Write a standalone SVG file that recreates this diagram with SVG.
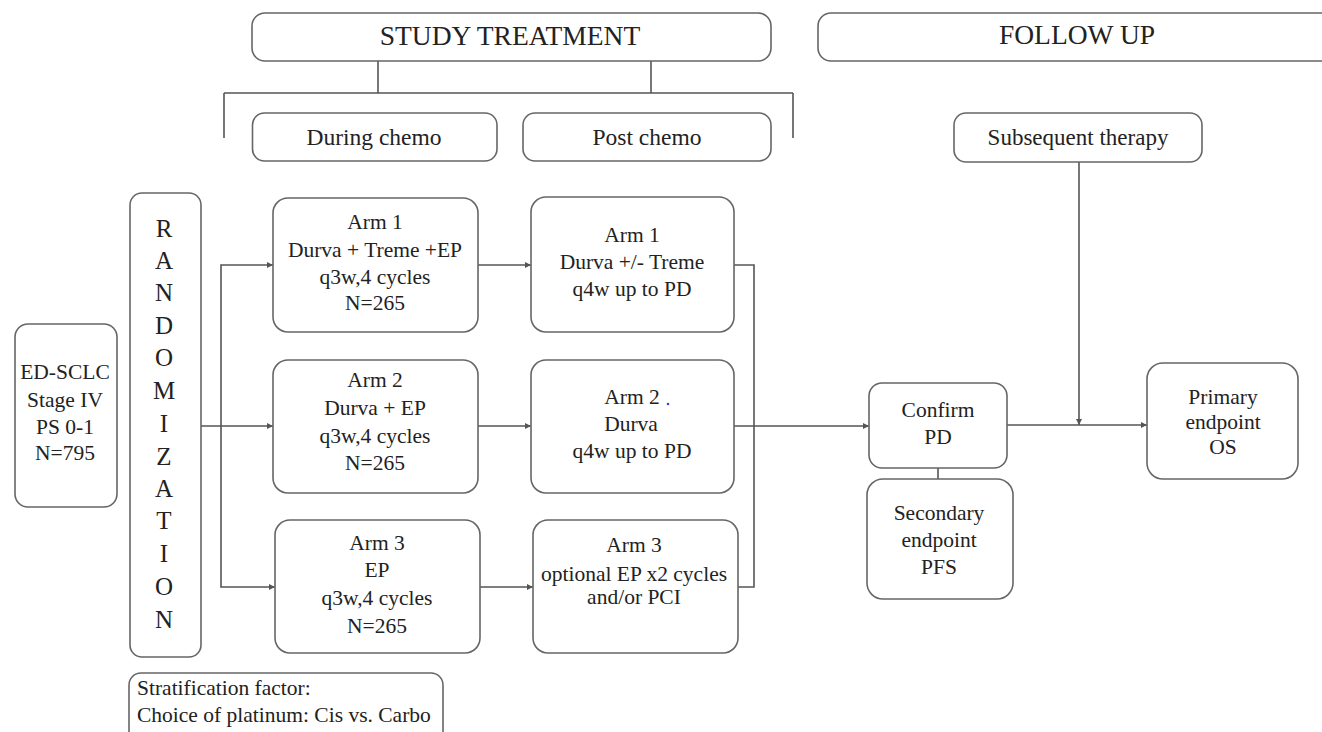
<svg xmlns="http://www.w3.org/2000/svg" width="1322" height="732" viewBox="0 0 1322 732" font-family="'Liberation Serif', 'DejaVu Serif', serif">
<defs>
<marker id="arr" viewBox="0 0 10 10" refX="10" refY="5" markerWidth="7" markerHeight="6" markerUnits="userSpaceOnUse" orient="auto">
<path d="M0,0 L10,5 L0,10 z" fill="#555"/>
</marker>
<style>
.box{fill:#fff;stroke:#666;stroke-width:1.6}
text{font-family:'Liberation Serif','DejaVu Serif',serif}
.t{fill:#222;text-anchor:middle;font-size:21.5px}
.h{font-size:27.5px}
.m{font-size:23.5px}
.s{font-size:23px}
.r{font-size:25px}
.l{text-anchor:start}
.c{fill:none;stroke:#555;stroke-width:1.6}
</style>
</defs>
<rect width="1322" height="732" fill="#fff"/>

<g id="connectors">
<path class="c" d="M378,61 V93 M651,61 V93 M224,93 H793 M224,93 V138 M793,93 V138"/>
<path class="c" d="M201,426 H273" marker-end="url(#arr)"/>
<path class="c" d="M221,426 V265 H273" marker-end="url(#arr)"/>
<path class="c" d="M221,426 V587 H275" marker-end="url(#arr)"/>
<path class="c" d="M478,265 H531" marker-end="url(#arr)"/>
<path class="c" d="M478,426 H531" marker-end="url(#arr)"/>
<path class="c" d="M480,587 H533" marker-end="url(#arr)"/>
<path class="c" d="M734,265 H754 V587 H738"/>
<path class="c" d="M734,426 H869" marker-end="url(#arr)"/>
<path class="c" d="M938,468 V479"/>
<path class="c" d="M1007,425 H1147" marker-end="url(#arr)"/>
<path class="c" d="M1079,162 V425" marker-end="url(#arr)"/>
</g>

<g id="study-treatment">
<rect class="box" x="252" y="13" width="519" height="48" rx="13"/>
<text class="t h" x="510" y="45">STUDY TREATMENT</text>
</g>
<g id="follow-up">
<rect class="box" x="818" y="13" width="520" height="48" rx="13"/>
<text class="t h" x="1077" y="44">FOLLOW UP</text>
</g>
<g id="during-chemo">
<rect class="box" x="252.5" y="113" width="244.5" height="48" rx="12"/>
<text class="t m" x="374" y="145">During chemo</text>
</g>
<g id="post-chemo">
<rect class="box" x="523" y="113" width="248" height="48" rx="12"/>
<text class="t m" x="647" y="145">Post chemo</text>
</g>
<g id="subsequent-therapy">
<rect class="box" x="954" y="113" width="248" height="49" rx="12"/>
<text class="t s" x="1078" y="145">Subsequent therapy</text>
</g>

<g id="ed-sclc">
<rect class="box" x="15" y="324" width="102" height="183" rx="13"/>
<text class="t" x="65" y="379">ED-SCLC</text>
<text class="t" x="65" y="407">Stage IV</text>
<text class="t" x="65" y="434">PS 0-1</text>
<text class="t" x="65" y="460">N=795</text>
</g>

<g id="randomization">
<rect class="box" x="130" y="193" width="71" height="464" rx="12"/>
<text class="t r" x="164" y="237">R</text>
<text class="t r" x="164" y="269">A</text>
<text class="t r" x="164" y="301">N</text>
<text class="t r" x="164" y="334">D</text>
<text class="t r" x="164" y="366">O</text>
<text class="t r" x="164" y="399">M</text>
<text class="t r" x="164" y="432">I</text>
<text class="t r" x="164" y="465">Z</text>
<text class="t r" x="164" y="497">A</text>
<text class="t r" x="164" y="529">T</text>
<text class="t r" x="164" y="562">I</text>
<text class="t r" x="164" y="595">O</text>
<text class="t r" x="164" y="628">N</text>
</g>

<g id="arm1-during">
<rect class="box" x="273" y="198" width="205" height="134" rx="15"/>
<text class="t" x="375" y="229">Arm 1</text>
<text class="t" x="375" y="257">Durva + Treme +EP</text>
<text class="t" x="375" y="284">q3w,4 cycles</text>
<text class="t" x="375" y="310">N=265</text>
</g>
<g id="arm2-during">
<rect class="box" x="273" y="360" width="205" height="133" rx="15"/>
<text class="t" x="375" y="387">Arm 2</text>
<text class="t" x="375" y="415">Durva + EP</text>
<text class="t" x="375" y="443">q3w,4 cycles</text>
<text class="t" x="375" y="470">N=265</text>
</g>
<g id="arm3-during">
<rect class="box" x="275" y="520" width="205" height="133" rx="15"/>
<text class="t" x="377" y="550">Arm 3</text>
<text class="t" x="377" y="577">EP</text>
<text class="t" x="377" y="605">q3w,4 cycles</text>
<text class="t" x="377" y="633">N=265</text>
</g>

<g id="arm1-post">
<rect class="box" x="531" y="197" width="203" height="135" rx="15"/>
<text class="t" x="632" y="242">Arm 1</text>
<text class="t" x="632" y="269">Durva +/- Treme</text>
<text class="t" x="632" y="296">q4w up to PD</text>
</g>
<g id="arm2-post">
<rect class="box" x="531" y="360" width="203" height="133" rx="15"/>
<text class="t" x="632" y="404">Arm 2</text>
<text class="t" x="631" y="431">Durva</text>
<text class="t" x="632" y="458">q4w up to PD</text>
<circle cx="668" cy="404" r="1.3" fill="#3344ee"/>
</g>
<g id="arm3-post">
<rect class="box" x="533" y="520" width="205" height="133" rx="15"/>
<text class="t" x="634" y="552">Arm 3</text>
<text class="t" x="634" y="581">optional EP x2 cycles</text>
<text class="t" x="634" y="604">and/or PCI</text>
</g>

<g id="confirm-pd">
<rect class="box" x="869" y="383" width="138" height="85" rx="13"/>
<text class="t" x="938" y="417">Confirm</text>
<text class="t" x="938" y="444">PD</text>
</g>
<g id="secondary-endpoint">
<rect class="box" x="867" y="479" width="146" height="120" rx="16"/>
<text class="t" x="939" y="520">Secondary</text>
<text class="t" x="939" y="547">endpoint</text>
<text class="t" x="939" y="574">PFS</text>
</g>
<g id="primary-endpoint">
<rect class="box" x="1147" y="363" width="151" height="116" rx="16"/>
<text class="t" x="1223" y="404">Primary</text>
<text class="t" x="1223" y="429">endpoint</text>
<text class="t" x="1223" y="454">OS</text>
</g>

<g id="stratification">
<rect class="box" x="129" y="673" width="314" height="70" rx="12"/>
<text class="t l" x="137" y="695">Stratification factor:</text>
<text class="t l" x="137" y="722">Choice of platinum: Cis vs. Carbo</text>
</g>
</svg>
